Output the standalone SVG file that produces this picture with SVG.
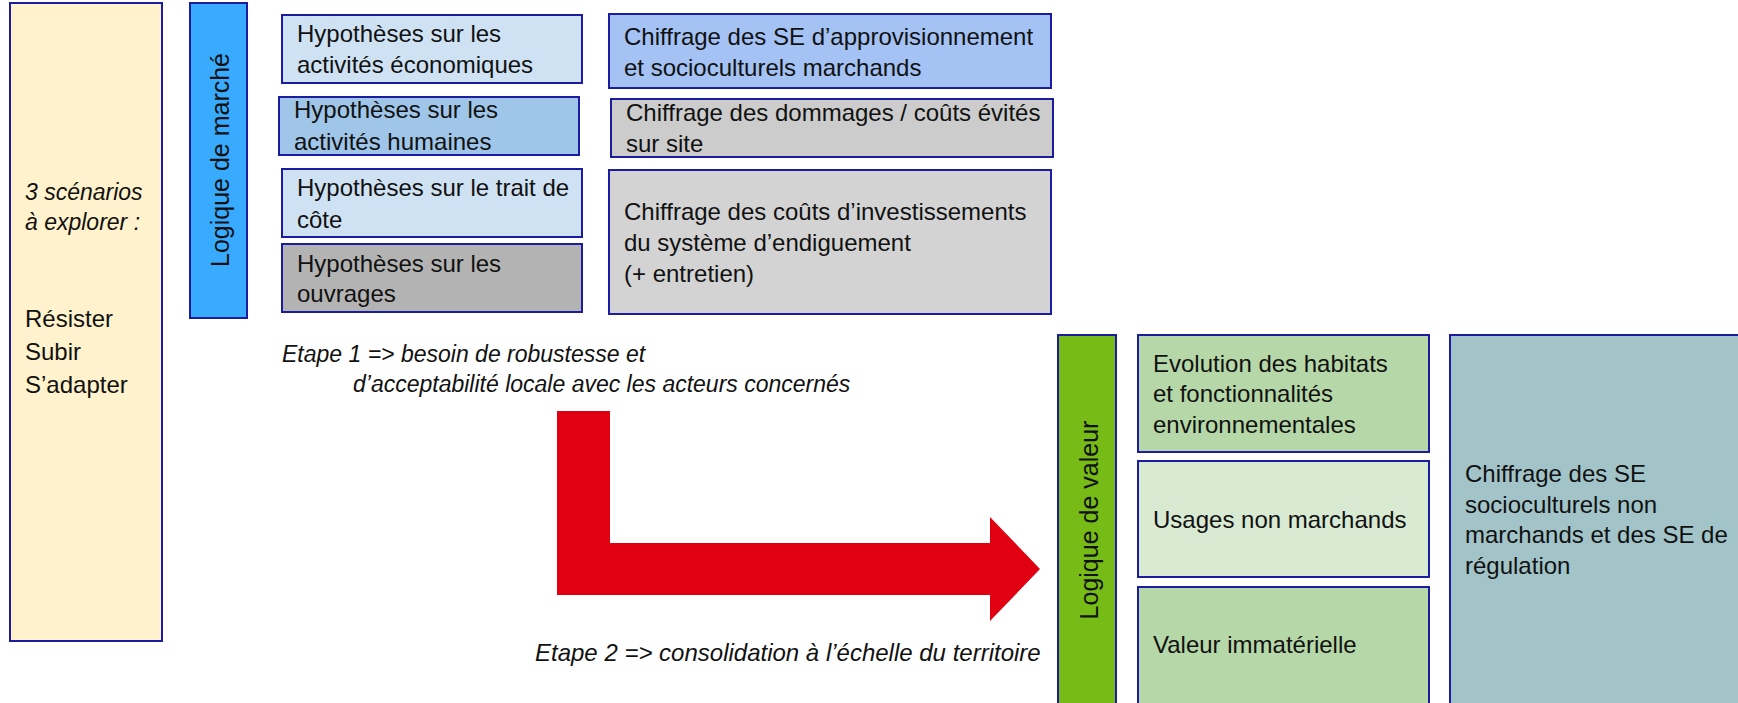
<svg xmlns="http://www.w3.org/2000/svg" width="1738" height="703" viewBox="0 0 1738 703">
<style>
.box{stroke:#1c1ca0;stroke-width:2}
.t{font-family:"Liberation Sans",Arial,sans-serif;font-size:24px;fill:#111}
.it{font-family:"Liberation Sans",Arial,sans-serif;font-size:23px;font-style:italic;fill:#111}
.vt{font-family:"Liberation Sans",Arial,sans-serif;font-size:25px;fill:#111;text-anchor:middle}
</style>
<rect width="1738" height="703" fill="#ffffff"/>
<g id="scenarios">
<rect class="box" x="10" y="3" width="152" height="638" fill="#fff2cc"/>
<text class="it" x="25" y="200">3 scénarios</text>
<text class="it" x="25" y="230">à explorer :</text>
<text class="t" x="25" y="327">Résister</text>
<text class="t" x="25" y="360">Subir</text>
<text class="t" x="25" y="393">S’adapter</text>
</g>
<g id="logique-marche">
<rect class="box" x="190" y="3" width="57" height="315" fill="#38abff"/>
<text class="vt" transform="translate(229,160) rotate(-90)">Logique de marché</text>
</g>
<g id="hyp-eco">
<rect class="box" x="282" y="15" width="300" height="68" fill="#cfe2f3"/>
<text class="t" x="297" y="42">Hypothèses sur les</text>
<text class="t" x="297" y="73">activités économiques</text>
</g>
<g id="hyp-hum">
<rect class="box" x="279" y="97" width="300" height="58" fill="#9fc5e8"/>
<text class="t" x="294" y="118">Hypothèses sur les</text>
<text class="t" x="294" y="150">activités humaines</text>
</g>
<g id="hyp-cote">
<rect class="box" x="282" y="169" width="300" height="68" fill="#cfe2f3"/>
<text class="t" x="297" y="196">Hypothèses sur le trait de</text>
<text class="t" x="297" y="228">côte</text>
</g>
<g id="hyp-ouvrages">
<rect class="box" x="282" y="244" width="300" height="68" fill="#b3b3b3"/>
<text class="t" x="297" y="272">Hypothèses sur les</text>
<text class="t" x="297" y="302">ouvrages</text>
</g>
<g id="chiffrage-se">
<rect class="box" x="609" y="14" width="442" height="74" fill="#a4c2f4"/>
<text class="t" x="624" y="45">Chiffrage des SE d’approvisionnement</text>
<text class="t" x="624" y="76">et socioculturels marchands</text>
</g>
<g id="chiffrage-dommages">
<rect class="box" x="611" y="99" width="442" height="58" fill="#cccccc"/>
<text class="t" x="626" y="121">Chiffrage des dommages / coûts évités</text>
<text class="t" x="626" y="152">sur site</text>
</g>
<g id="chiffrage-couts">
<rect class="box" x="609" y="170" width="442" height="144" fill="#d3d3d3"/>
<text class="t" x="624" y="220">Chiffrage des coûts d’investissements</text>
<text class="t" x="624" y="251">du système d’endiguement</text>
<text class="t" x="624" y="282">(+ entretien)</text>
</g>
<g id="etape1">
<text class="it" x="282" y="362">Etape 1 =&gt; besoin de robustesse et</text>
<text class="it" x="353" y="392">d’acceptabilité locale avec les acteurs concernés</text>
</g>
<g id="etape2">
<text class="it" x="535" y="661" style="font-size:24px">Etape 2 =&gt; consolidation à l’échelle du territoire</text>
</g>
<g id="logique-valeur">
<rect class="box" x="1058" y="335" width="58" height="380" fill="#77bc16"/>
<text class="vt" transform="translate(1098,520) rotate(-90)">Logique de valeur</text>
</g>
<g id="habitats">
<rect class="box" x="1138" y="335" width="291" height="117" fill="#b6d7a8"/>
<text class="t" x="1153" y="372">Evolution des habitats</text>
<text class="t" x="1153" y="402">et fonctionnalités</text>
<text class="t" x="1153" y="433">environnementales</text>
</g>
<g id="usages">
<rect class="box" x="1138" y="461" width="291" height="116" fill="#d9ead3"/>
<text class="t" x="1153" y="528">Usages non marchands</text>
</g>
<g id="valeur-immat">
<rect class="box" x="1138" y="587" width="291" height="130" fill="#b6d7a8"/>
<text class="t" x="1153" y="653">Valeur immatérielle</text>
</g>
<g id="chiffrage-non-marchands">
<rect class="box" x="1450" y="335" width="300" height="380" fill="#a2c4c9"/>
<text class="t" x="1465" y="482">Chiffrage des SE</text>
<text class="t" x="1465" y="513">socioculturels non</text>
<text class="t" x="1465" y="543">marchands et des SE de</text>
<text class="t" x="1465" y="574">régulation</text>
</g>
<g id="connectors">
<path d="M557,411 L610,411 L610,543 L990,543 L990,517 L1040,569 L990,621 L990,595 L557,595 Z" fill="#e00012"/>
</g>
</svg>
